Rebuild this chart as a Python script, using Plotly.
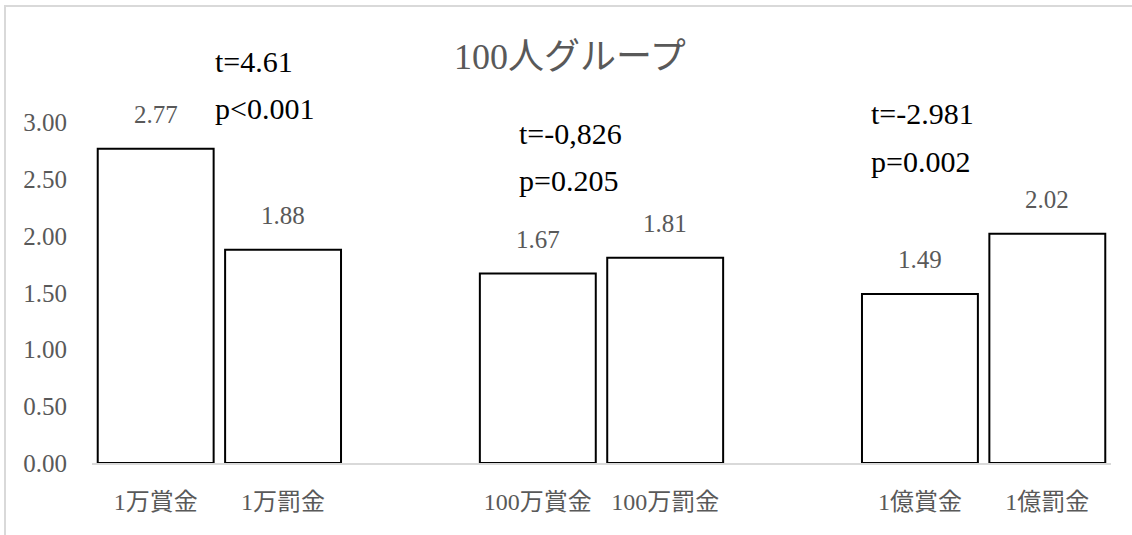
import plotly.graph_objects as go

# Mean scores per condition (100-person group)
categories = ["1万賞金", "1万罰金", "100万賞金", "100万罰金", "1億賞金", "1億罰金"]
values = [2.77, 1.88, 1.67, 1.81, 1.49, 2.02]

# Axis slots: blank spacer slots separate the three amount groups
slot_order = ["1万賞金", "1万罰金", " ", "100万賞金", "100万罰金", "  ", "1億賞金", "1億罰金"]

# t-test results per amount group
stats_t = ["t=4.61", "t=-0,826", "t=-2.981"]
stats_p = ["p<0.001", "p=0.205", "p=0.002"]

y_ticks = [0.0, 0.5, 1.0, 1.5, 2.0, 2.5, 3.0]
title_text = "100人グループ"

W, H = 1132, 535
ML, MR, MT, MB = 92, 21, 66, 72
PW, PH = W - ML - MR, H - MT - MB

FONT = "Liberation Serif, 'Noto Sans CJK JP', serif"
GRAY = "#595959"


def px(x):
    return (x - ML) / PW


def py(y):
    return (H - MB - y) / PH


fig = go.Figure()
fig.add_trace(go.Bar(
    x=categories,
    y=values,
    marker=dict(color="white", line=dict(color="black", width=2)),
    showlegend=False,
    hoverinfo="x+y",
))

annotations = []
# value labels above each bar
for c, v in zip(categories, values):
    annotations.append(dict(
        x=c, y=v, xref="x", yref="y", text=f"{v:.2f}", showarrow=False,
        yanchor="bottom", yshift=19,
        font=dict(family=FONT, size=25, color=GRAY),
    ))

# t / p statistics for each group (left edge, line centres in pixels)
stat_pos = [(213, 62, 108), (517, 133, 180), (869, 113, 161)]
for (xl, yt, yp), t, p in zip(stat_pos, stats_t, stats_p):
    for yy, txt in ((yt, t), (yp, p)):
        annotations.append(dict(
            x=px(xl), y=py(yy), xref="paper", yref="paper", text=txt,
            showarrow=False, xanchor="left", yanchor="middle",
            font=dict(family=FONT, size=30, color="black"),
        ))

# chart title
annotations.append(dict(
    x=px(570), y=py(57), xref="paper", yref="paper", text=title_text,
    showarrow=False, xanchor="center", yanchor="middle",
    font=dict(family=FONT, size=36, color=GRAY),
))

fig.update_layout(
    width=W, height=H,
    margin=dict(l=ML, r=MR, t=MT, b=MB),
    paper_bgcolor="white", plot_bgcolor="white",
    bargap=0.09,
    annotations=annotations,
    shapes=[dict(
        type="rect", xref="paper", yref="paper",
        x0=px(5), x1=px(W + 40), y0=py(H + 40), y1=py(6),
        line=dict(color="#d9d9d9", width=2), fillcolor="rgba(0,0,0,0)",
        layer="below",
    )],
    xaxis=dict(
        type="category", categoryorder="array", categoryarray=slot_order,
        range=[-0.5, len(slot_order) - 0.5],
        showgrid=False, showline=True, linecolor="#d9d9d9", linewidth=2,
        ticks="", ticklabelstandoff=16,
        tickfont=dict(family=FONT, size=24, color=GRAY),
    ),
    yaxis=dict(
        range=[0, 3.5], tickvals=y_ticks, ticktext=[f"{t:.2f}" for t in y_ticks],
        showgrid=False, showline=False, zeroline=False, ticks="",
        ticklabelstandoff=24,
        tickfont=dict(family=FONT, size=25, color=GRAY),
    ),
)

fig.write_html("out.html")
